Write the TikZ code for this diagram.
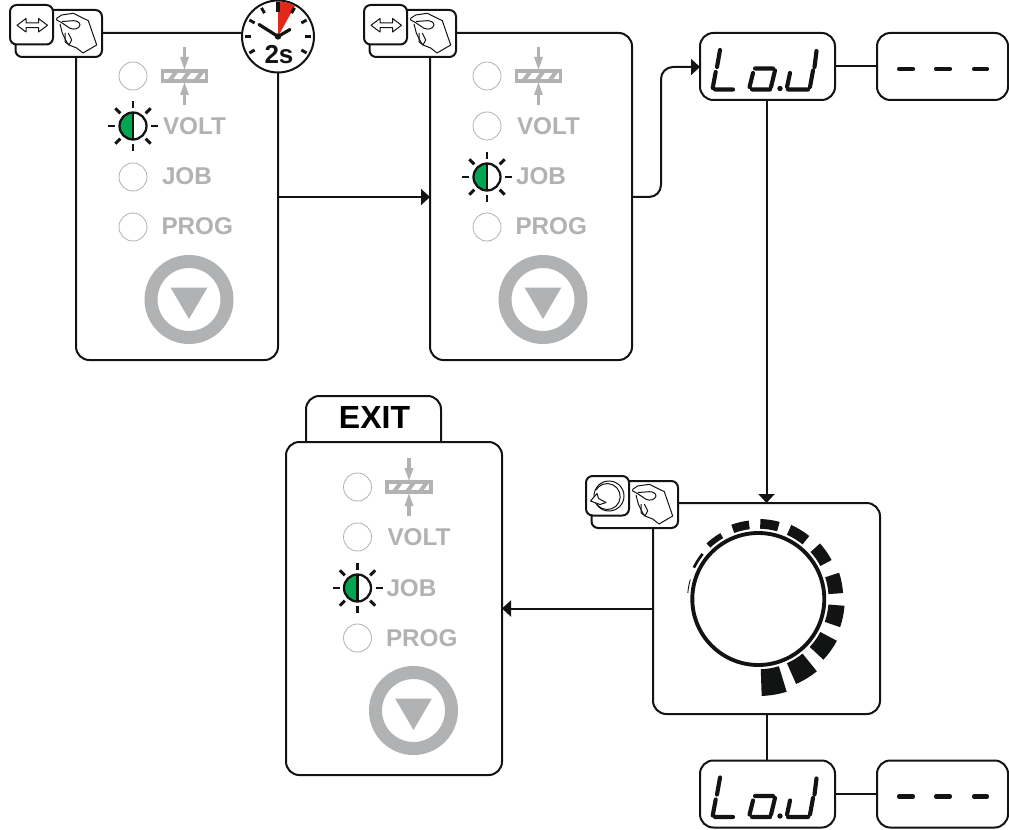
\documentclass[tikz,border=0pt]{standalone}
\usepackage{fontspec}
\setmainfont{Liberation Sans}
\usetikzlibrary{arrows.meta}
\definecolor{pgray}{HTML}{B1B2B3}
\definecolor{ledgreen}{HTML}{00A651}
\definecolor{clockred}{HTML}{E2271B}
\definecolor{ink}{HTML}{111413}
\tikzset{
  ln/.style={line width=1.5pt,draw=ink},
  box/.style={ln,rounded corners=10pt,fill=white,inner sep=0pt,outer sep=0pt},
  conn/.style={ln,-{Triangle[length=6.75pt,width=12pt]}},
  plain/.style={ln},
  lbl/.style={font=\bfseries\fontsize{18.2}{18.2}\selectfont,text=pgray,anchor=base west,inner sep=0pt,outer sep=0pt},
  ledoff/.style={draw=pgray,line width=0.6pt,fill=white},
  ray/.style={draw=ink,line width=2.2pt},
  seg/.style={draw=ink,line width=3.1pt,line cap=round},
  icon/.style={draw=ink,line width=1.5pt,fill=white,rounded corners=5pt},
  thin ink/.style={draw=ink,line width=0.75pt,line join=round},
}
% LED that blinks at (#1,#2)
\newcommand{\ledon}[2]{%
  \begin{scope}[shift={(#1,#2)}]
    \foreach \a in {0,45,...,315}{\draw[ray] (\a:18) -- (\a:25);}
    \fill[white] (0,0) circle (14);
    \fill[ledgreen] (0,-14) arc[start angle=-90,end angle=-270,radius=14] -- cycle;
    \draw[ln,line width=1.7pt] (0,0) circle (13.5);
    \draw[ln,line width=2pt] (0,-14) -- (0,14);
  \end{scope}}
\newcommand{\ledout}[2]{\draw[ledoff] (#1,#2) circle (14);}
% Panel content: #1 prefix, #2 dx, #3 dy, #4 active row (2 = VOLT, 3 = JOB)
\newcommand{\panelbody}[4]{%
  \begin{scope}[shift={(#2,#3)}]
    \ledout{133}{76}
    \begin{scope}
      \clip (161,69.5) rectangle (208,82.5);
      \foreach \s in {167,180,193}{\draw[pgray,line width=3pt] (\s,84) -- (\s+12,68);}
    \end{scope}
    \draw[pgray,line width=2.6pt] (162.5,71) rectangle (206.5,81);
    \draw[pgray,line width=2.4pt] (184.5,47) -- (184.5,60);
    \fill[pgray] (180,57) -- (189,57) -- (184.5,69.5) -- cycle;
    \draw[pgray,line width=2.4pt] (184.5,105) -- (184.5,92);
    \fill[pgray] (180,95) -- (189,95) -- (184.5,82.5) -- cycle;
    \ifnum#4=2 \ledon{133}{126}\else\ledout{133}{126}\fi
    \ifnum#4=3 \ledon{133}{177}\else\ledout{133}{177}\fi
    \ledout{133}{227}
    \node[lbl] (#1volt) at (163,134.5) {VOLT};
    \node[lbl] (#1job) at (162,185) {JOB};
    \node[lbl] (#1prog) at (161.5,235) {PROG};
    \draw[pgray,line width=9.75pt] (189,299.5) circle (38);
    \fill[pgray] (170.7,287.7) -- (207.3,287.7) -- (189,319) -- cycle;
  \end{scope}}
% Hand with key box: #1 dx, #2 dy, #3 content of the small box
\newcommand{\handicon}[3]{%
  \begin{scope}[shift={(#1,#2)}]
    \draw[icon] (15.5,10) rectangle (102,57);
    \draw[thin ink] (56.7,18.3) -- (61.7,15) -- (73.3,13.3) -- (88.3,20.7) -- (96.7,45) -- (83,53) -- (76.7,48) -- (69,45) .. controls (66,42) and (65,38) .. (62.3,33) -- (60,24);
    \draw[thin ink] (56.7,18.3) -- (56.7,20) -- (61.7,22.7) -- (70,28.3) .. controls (74,30) and (79,29) .. (80,25) .. controls (80,22) and (76,20.5) .. (73.3,20.7) -- (62,21.5);
    \draw[thin ink] (65,33) -- (65,41.7) -- (69,45) -- (71.7,40) -- (68.3,33);
    \draw[icon] (10,5) rectangle (53,44.5);
    #3
  \end{scope}}
\newcommand{\swapglyph}{\draw[thin ink,fill=white] (17,25.3) -- (26,18.5) -- (26,23) -- (38.5,23) -- (38.5,18.5) -- (47.5,25.3) -- (38.5,32) -- (38.5,27.6) -- (26,27.6) -- (26,32) -- cycle;}
\newcommand{\turnglyph}{%
  \draw[thin ink] (33,25) circle (15);
  \draw[thin ink] (19,30) arc[start angle=160,end angle=-150,radius=13];
  \draw[thin ink,fill=white] (14.5,30) -- (21,22.5) -- (22.5,27.5) -- (30,31.5) -- (24,33.5) -- cycle;}
% Seven-segment "Lo.U": #1 dy
\newcommand{\lodigits}[1]{%
  \begin{scope}[shift={(700,#1)}]
    \draw[seg] (20,15) -- (17,32) (15.7,37) -- (12.7,53) (15,54.5) -- (33,54.5);
    \draw[seg] (53,38) -- (49.5,52) (55,33.5) -- (73,33.5) (75,35.5) -- (71,52) (52,54.5) -- (70,54.5);
    \fill[ink] (80,53.5) circle (2.7);
    \draw[seg] (90,38) -- (87,52) (88,54.5) -- (108,54.5) (113,35.5) -- (110,52) (116.5,16) -- (114.5,32);
  \end{scope}}
\newcommand{\dashdigits}[1]{%
  \draw[seg] (899,#1) -- (913,#1) (936,#1) -- (950,#1) (974,#1) -- (987,#1);}
\begin{document}
\begin{tikzpicture}[x=0.75pt,y=-0.75pt]
\useasboundingbox (0,0) rectangle (1009,830);
% boxes
\node[box,minimum width=151.5pt,minimum height=245.25pt] (p1) at (177,196.5) {};
\node[box,minimum width=151.5pt,minimum height=245.25pt] (p2) at (531,196.5) {};
\draw[ln,fill=white,rounded corners=10pt] (306,443) -- (306,396) -- (441,396) -- (441,443);
\node[font=\bfseries\fontsize{24}{24}\selectfont,text=black,inner sep=0pt] (exit) at (374.5,417) {EXIT};
\node[box,minimum width=162pt,minimum height=249.75pt] (p3) at (394,608.5) {};
\node[box,minimum width=170.25pt,minimum height=158.25pt] (knob) at (766.5,608.5) {};
\node[box,minimum width=101.25pt,minimum height=50.25pt] (d1) at (767.5,66.5) {};
\node[box,minimum width=98.25pt,minimum height=50.25pt] (d2) at (942.5,66.5) {};
\node[box,minimum width=101.25pt,minimum height=50.25pt] (d3) at (767.5,794) {};
\node[box,minimum width=98.25pt,minimum height=50.25pt] (d4) at (942.5,794) {};
% connectors
\draw[conn] (p1.east |- 0,197) -- (p2.west |- 0,197);
\draw[ln,-{Triangle[length=6.75pt,width=12pt]},rounded corners=9pt] (p2.east |- 0,197) -- (661,197) -- (661,67) -- (d1.west |- 0,67);
\draw[conn] (knob.north |- d1.south) -- (knob.north);
\draw[conn] (knob.west) -- (p3.east |- knob.west);
\draw[plain] (d1.east) -- (d2.west);
\draw[plain] (d3.east) -- (d4.west);
\draw[plain] (knob.south) -- (knob.south |- d3.north);
% panel contents
\panelbody{a}{0}{0}{2}
\panelbody{b}{354}{0}{3}
\panelbody{c}{224.5}{411}{3}
% icons
\handicon{0}{0}{\swapglyph}
\handicon{354}{0}{\swapglyph}
\handicon{576}{471}{\turnglyph}
% clock
\node[circle,draw=ink,line width=1.5pt,fill=white,minimum size=54pt,inner sep=0pt,outer sep=0pt] (clock) at (278,36.5) {};
\begin{scope}[shift={(clock.center)}]
  \fill[clockred] (0,0) -- (0,-35) arc[start angle=-90,end angle=-61,radius=35] -- cycle;
  \foreach \a in {30,0,-30,-60,-120,-150,180,150}{\draw[ray] (\a:27) -- (\a:33);}
  \draw[ray,line width=2.4pt] (0,-24) -- (0,-34);
  \draw[ln,line width=2.4pt,line cap=round,line join=round] (-19,-12) -- (0,0) -- (12,-7);
  \fill[ink] (0,0) circle (3.2);
\end{scope}
\node[font=\bfseries\fontsize{19.5}{19.5}\selectfont,text=ink,inner sep=0pt] (twos) at (279,55) {2s};
% seven-segment displays
\lodigits{35}
\lodigits{762.5}
\dashdigits{69}
\dashdigits{796.5}
% knob
\draw[ink,line width=2.9pt] (758.3,599) circle (66);
\begin{scope}[shift={(758.3,599)}]
  \foreach \s/\e/\o in {-88/-73/97,-66/-51/93,-43/-28/89,-19/-4.5/86.5,4/18/85,28/42/83,51/66/81,74.5/88.5/80,97/110/79,120/133/76,141/154/73,164/175/71.2}{
    \pgfmathsetmacro{\ms}{-\s}
    \pgfmathsetmacro{\me}{-\e}
    \fill[ink] (\ms:70.3) -- (\ms:\o) arc[start angle=\ms,end angle=\me,radius=\o] -- (\me:70.3) arc[start angle=\me,end angle=\ms,radius=70.3] -- cycle;
  }
\end{scope}
\end{tikzpicture}
\end{document}
